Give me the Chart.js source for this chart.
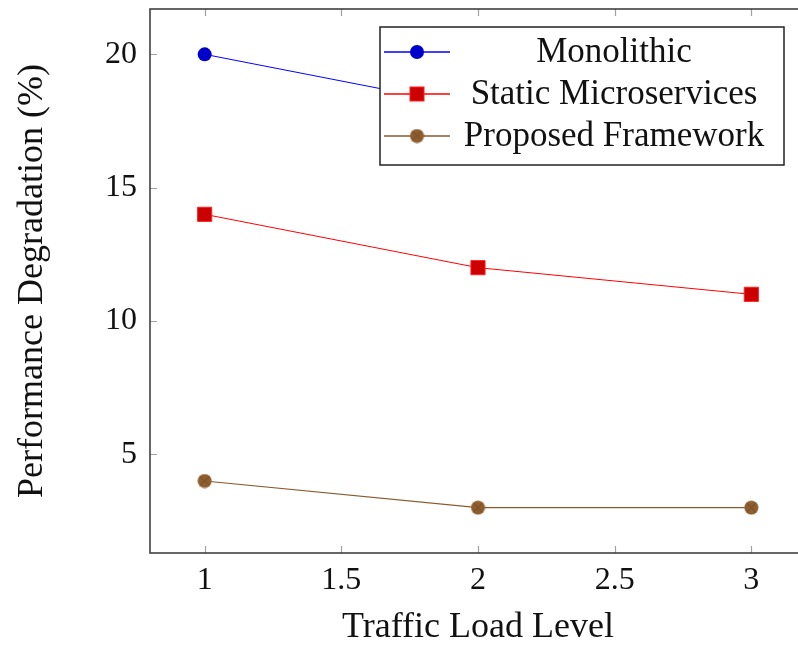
<!DOCTYPE html>
<html lang="en">
<head>
  <meta charset="UTF-8">
  <title>Performance Degradation vs Traffic Load</title>
  <script src="https://cdn.jsdelivr.net/npm/chart.js"></script>
  <style>
    html, body { margin: 0; padding: 0; background: #fff; overflow: hidden; }
    #wrap { width: 820px; height: 645px; }
  </style>
</head>
<body>
  <div id="wrap"><canvas id="chart" width="820" height="645"></canvas></div>

  <script>
    // data
    const loadLevels = [1, 2, 3];
    const monolithic = [20, 18, 17];
    const staticMicro = [14, 12, 11];
    const proposed = [4, 3, 3];
    const xTicks = [1, 1.5, 2, 2.5, 3];
    const yTicks = [5, 10, 15, 20];

    const FONT = '"Liberation Serif", "DejaVu Serif", serif';

    // filled circle with an x in it (pgfplots otimes*)
    function otimesMarker(fill, stroke) {
      const c = document.createElement('canvas');
      c.width = 15; c.height = 15;
      const g = c.getContext('2d');
      g.beginPath();
      g.arc(7.5, 7.5, 7, 0, Math.PI * 2);
      g.fillStyle = fill;
      g.fill();
      g.strokeStyle = stroke;
      g.lineWidth = 0.8;
      g.beginPath();
      g.moveTo(2.8, 2.8); g.lineTo(12.2, 12.2);
      g.moveTo(12.2, 2.8); g.lineTo(2.8, 12.2);
      g.stroke();
      return c;
    }
    const brownMarker = otimesMarker('#8f5e2e', '#6e4520');

    const pts = vals => vals.map((v, i) => ({ x: loadLevels[i], y: v }));

    // frame + inward ticks like pgfplots
    const framePlugin = {
      id: 'frame',
      afterDatasetsDraw(chart) {
        const { ctx, chartArea: a, scales: { x, y } } = chart;
        ctx.save();
        ctx.strokeStyle = '#a0a0a0';
        ctx.lineWidth = 1.2;
        ctx.beginPath();
        xTicks.forEach(v => {
          const px = Math.round(x.getPixelForValue(v)) + 0.5;
          ctx.moveTo(px, a.bottom); ctx.lineTo(px, a.bottom - 7);
          ctx.moveTo(px, a.top); ctx.lineTo(px, a.top + 7);
        });
        yTicks.forEach(v => {
          const py = Math.round(y.getPixelForValue(v)) + 0.5;
          ctx.moveTo(a.left, py); ctx.lineTo(a.left + 7, py);
          ctx.moveTo(a.right, py); ctx.lineTo(a.right - 7, py);
        });
        ctx.stroke();
        ctx.strokeStyle = '#404040';
        ctx.lineWidth = 1.6;
        ctx.strokeRect(a.left, a.top, a.right - a.left, a.bottom - a.top);
        ctx.restore();
      }
    };

    // boxed legend in upper right
    const legendPlugin = {
      id: 'boxLegend',
      afterDraw(chart) {
        const { ctx } = chart;
        const bx = 380, by = 27, bw = 404, bh = 138;
        ctx.save();
        ctx.fillStyle = '#fff';
        ctx.fillRect(bx, by, bw, bh);
        ctx.strokeStyle = '#222';
        ctx.lineWidth = 1.5;
        ctx.strokeRect(bx, by, bw, bh);
        ctx.font = '35px ' + FONT;
        ctx.textAlign = 'center';
        ctx.textBaseline = 'middle';
        chart.data.datasets.forEach((ds, i) => {
          const cy = by + 25 + i * 42;
          ctx.strokeStyle = ds.borderColor;
          ctx.lineWidth = 1.3;
          ctx.beginPath();
          ctx.moveTo(bx + 4, cy); ctx.lineTo(bx + 70, cy);
          ctx.stroke();
          const cx = bx + 37;
          if (ds.pointStyle === 'rect') {
            ctx.fillStyle = ds.pointBackgroundColor;
            ctx.fillRect(cx - 7, cy - 7, 14, 14);
            ctx.strokeStyle = ds.pointBorderColor;
            ctx.lineWidth = 1;
            ctx.strokeRect(cx - 7, cy - 7, 14, 14);
          } else if (ds.pointStyle === 'circle') {
            ctx.fillStyle = ds.pointBackgroundColor;
            ctx.beginPath(); ctx.arc(cx, cy, 7, 0, Math.PI * 2); ctx.fill();
          } else {
            ctx.drawImage(ds.pointStyle, cx - 7.5, cy - 7.5);
          }
          ctx.fillStyle = '#111';
          ctx.fillText(ds.label, bx + 234, cy + 1);
        });
        ctx.restore();
      }
    };

    new Chart(document.getElementById('chart'), {
      type: 'line',
      data: {
        datasets: [
          {
            label: 'Monolithic',
            data: pts(monolithic),
            borderColor: '#0000ff',
            borderWidth: 1,
            pointStyle: 'circle',
            pointRadius: 7,
            pointBackgroundColor: '#0000cc',
            pointBorderColor: '#0000cc',
            pointBorderWidth: 0
          },
          {
            label: 'Static Microservices',
            data: pts(staticMicro),
            borderColor: '#ff0000',
            borderWidth: 1,
            pointStyle: 'rect',
            pointRadius: 10,
            pointBackgroundColor: '#cc0000',
            pointBorderColor: '#ff2020',
            pointBorderWidth: 1
          },
          {
            label: 'Proposed Framework',
            data: pts(proposed),
            borderColor: '#8a5a2c',
            borderWidth: 1.2,
            pointStyle: brownMarker,
            pointRadius: 7.5,
            pointBackgroundColor: '#8f5e2e',
            pointBorderColor: '#8f5e2e'
          }
        ]
      },
      options: {
        responsive: false,
        animation: false,
        layout: { autoPadding: false, padding: { top: 9, right: 14, left: 0, bottom: 0 } },
        plugins: { legend: { display: false }, tooltip: { enabled: false } },
        scales: {
          x: {
            type: 'linear',
            min: 0.8,
            max: 3.2,
            afterBuildTicks: s => { s.ticks = xTicks.map(v => ({ value: v })); },
            afterFit: s => { s.height = 92; s.paddingLeft = 0; s.paddingRight = 0; },
            grid: { display: false, drawTicks: false },
            border: { display: false },
            ticks: {
              color: '#111',
              padding: 8,
              maxRotation: 0,
              callback: v => String(v),
              font: { family: FONT, size: 32 }
            },
            title: {
              display: true,
              text: 'Traffic Load Level',
              color: '#111',
              padding: { top: 0, bottom: 0 },
              font: { family: FONT, size: 36, lineHeight: 0.98 }
            }
          },
          y: {
            type: 'linear',
            min: 1.3,
            max: 21.7,
            afterBuildTicks: s => { s.ticks = yTicks.map(v => ({ value: v })); },
            afterFit: s => { s.width = 150; s.paddingTop = 0; s.paddingBottom = 0; },
            grid: { display: false, drawTicks: false },
            border: { display: false },
            ticks: {
              color: '#111',
              padding: 13,
              font: { family: FONT, size: 32 }
            },
            title: {
              display: true,
              text: 'Performance Degradation (%)',
              color: '#111',
              padding: { top: 11, bottom: 0 },
              font: { family: FONT, size: 36 }
            }
          }
        }
      },
      plugins: [framePlugin, legendPlugin]
    });
  </script>
</body>
</html>
